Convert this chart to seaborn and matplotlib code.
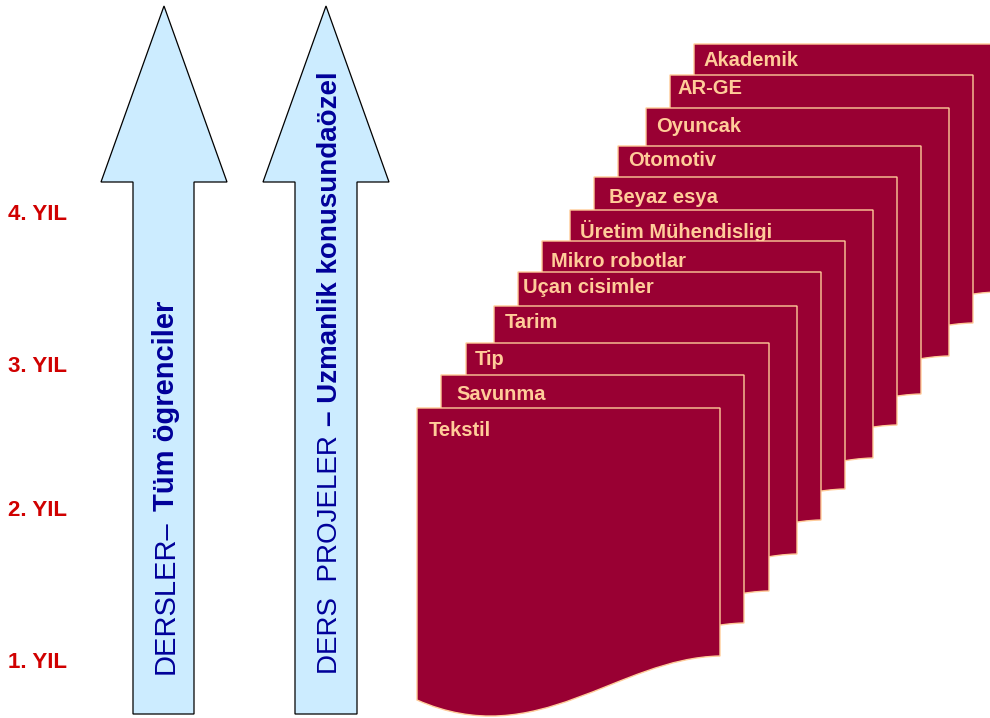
import matplotlib
matplotlib.use("Agg")
import matplotlib.pyplot as plt
from matplotlib.path import Path
from matplotlib.patches import PathPatch, Polygon
import seaborn as sns

# ---------------- data ----------------
year_labels = ["4. YIL", "3. YIL", "2. YIL", "1. YIL"]
year_y = [214, 367, 511, 662]

doc_labels = ["Akademik", "AR-GE", "Oyuncak", "Otomotiv", "Beyaz esya",
              "Üretim Mühendisligi", "Mikro robotlar", "Uçan cisimler",
              "Tarim", "Tip", "Savunma", "Tekstil"]
doc_left = [694, 670, 646, 618, 594, 570, 542, 518, 494, 466, 441, 417]
doc_top = [44, 75, 108, 146, 177, 210, 241, 272, 306, 343, 375, 408]
label_x = [704, 677, 656, 628, 609, 580, 551, 523, 505, 475, 456, 429]
label_base = [66, 94, 132, 166, 203, 238, 267, 293, 328, 365, 400, 436]

arrow_first = ["DERSLER–", "DERS  PROJELER"]
arrow_second = ["Tüm ögrenciler", "– Uzmanlik konusundaözel"]

# ---------------- style ----------------
sns.set_theme(style="white")
plt.rcParams["font.family"] = ["Liberation Sans", "DejaVu Sans"]

W, H = 990, 718
fig, ax = plt.subplots(figsize=(W / 100, H / 100), dpi=100)
fig.subplots_adjust(0, 0, 1, 1)
ax.set_xlim(0, W)
ax.set_ylim(H, 0)
ax.axis("off")

doc_fill = "#990033"
doc_edge = "#FFCC99"
arrow_fill = "#CCECFF"
navy = "#000099"
red = "#D00000"

# ---------------- year labels ----------------
for lab, y in zip(year_labels, year_y):
    ax.text(8, y, lab, color=red, fontsize=16, fontweight="bold",
            ha="left", va="center")

# ---------------- arrows ----------------
arrow_geom = [  # shaft left, shaft right, head left, head right
    (133, 194, 101, 227),
    (295, 357, 263, 389),
]
tip_y, base_y, bottom_y = 6, 182, 714
for (sl, sr, hl, hr) in arrow_geom:
    cx = (hl + hr) / 2
    pts = [(sl, bottom_y), (sl, base_y), (hl, base_y), (cx, tip_y),
           (hr, base_y), (sr, base_y), (sr, bottom_y)]
    ax.add_patch(Polygon(pts, closed=True, facecolor=arrow_fill,
                         edgecolor="black", linewidth=0.9, zorder=2))

arrow_text_x = [174, 337]
arrow_text_size = [21, 20]
arrow_start_y = 674
renderer = fig.canvas.get_renderer()
inv = ax.transData.inverted()
for i in range(2):
    t1 = ax.text(arrow_text_x[i], arrow_start_y, arrow_first[i], color=navy,
                 fontsize=arrow_text_size[i], fontweight="medium", rotation=90,
                 rotation_mode="anchor", ha="left", va="baseline", zorder=3)
    bb = t1.get_window_extent(renderer)
    top = inv.transform((bb.x0, bb.y1))[1]
    ax.text(arrow_text_x[i], top - 9, arrow_second[i], color=navy,
            fontsize=arrow_text_size[i], fontweight="bold", rotation=90,
            rotation_mode="anchor", ha="left", va="baseline", zorder=3)

# ---------------- document stack ----------------
doc_w, doc_h_right = 303, 248
for k, (lab, L, T, lx, lb) in enumerate(zip(doc_labels, doc_left, doc_top,
                                           label_x, label_base)):
    verts = [(L, T), (L + doc_w, T), (L + doc_w, T + doc_h_right),
             (L + 200, T + 250), (L + 120, T + 345), (L, T + 292),
             (L, T)]
    codes = [Path.MOVETO, Path.LINETO, Path.LINETO,
             Path.CURVE4, Path.CURVE4, Path.CURVE4, Path.CLOSEPOLY]
    z = 4 + k
    ax.add_patch(PathPatch(Path(verts, codes), facecolor=doc_fill,
                           edgecolor=doc_edge, linewidth=1.0, zorder=z))
    ax.text(lx, lb, lab, color=doc_edge, fontsize=14.5, fontweight="bold",
            ha="left", va="baseline", zorder=z + 0.5)

fig.savefig("out.png", dpi=100)
